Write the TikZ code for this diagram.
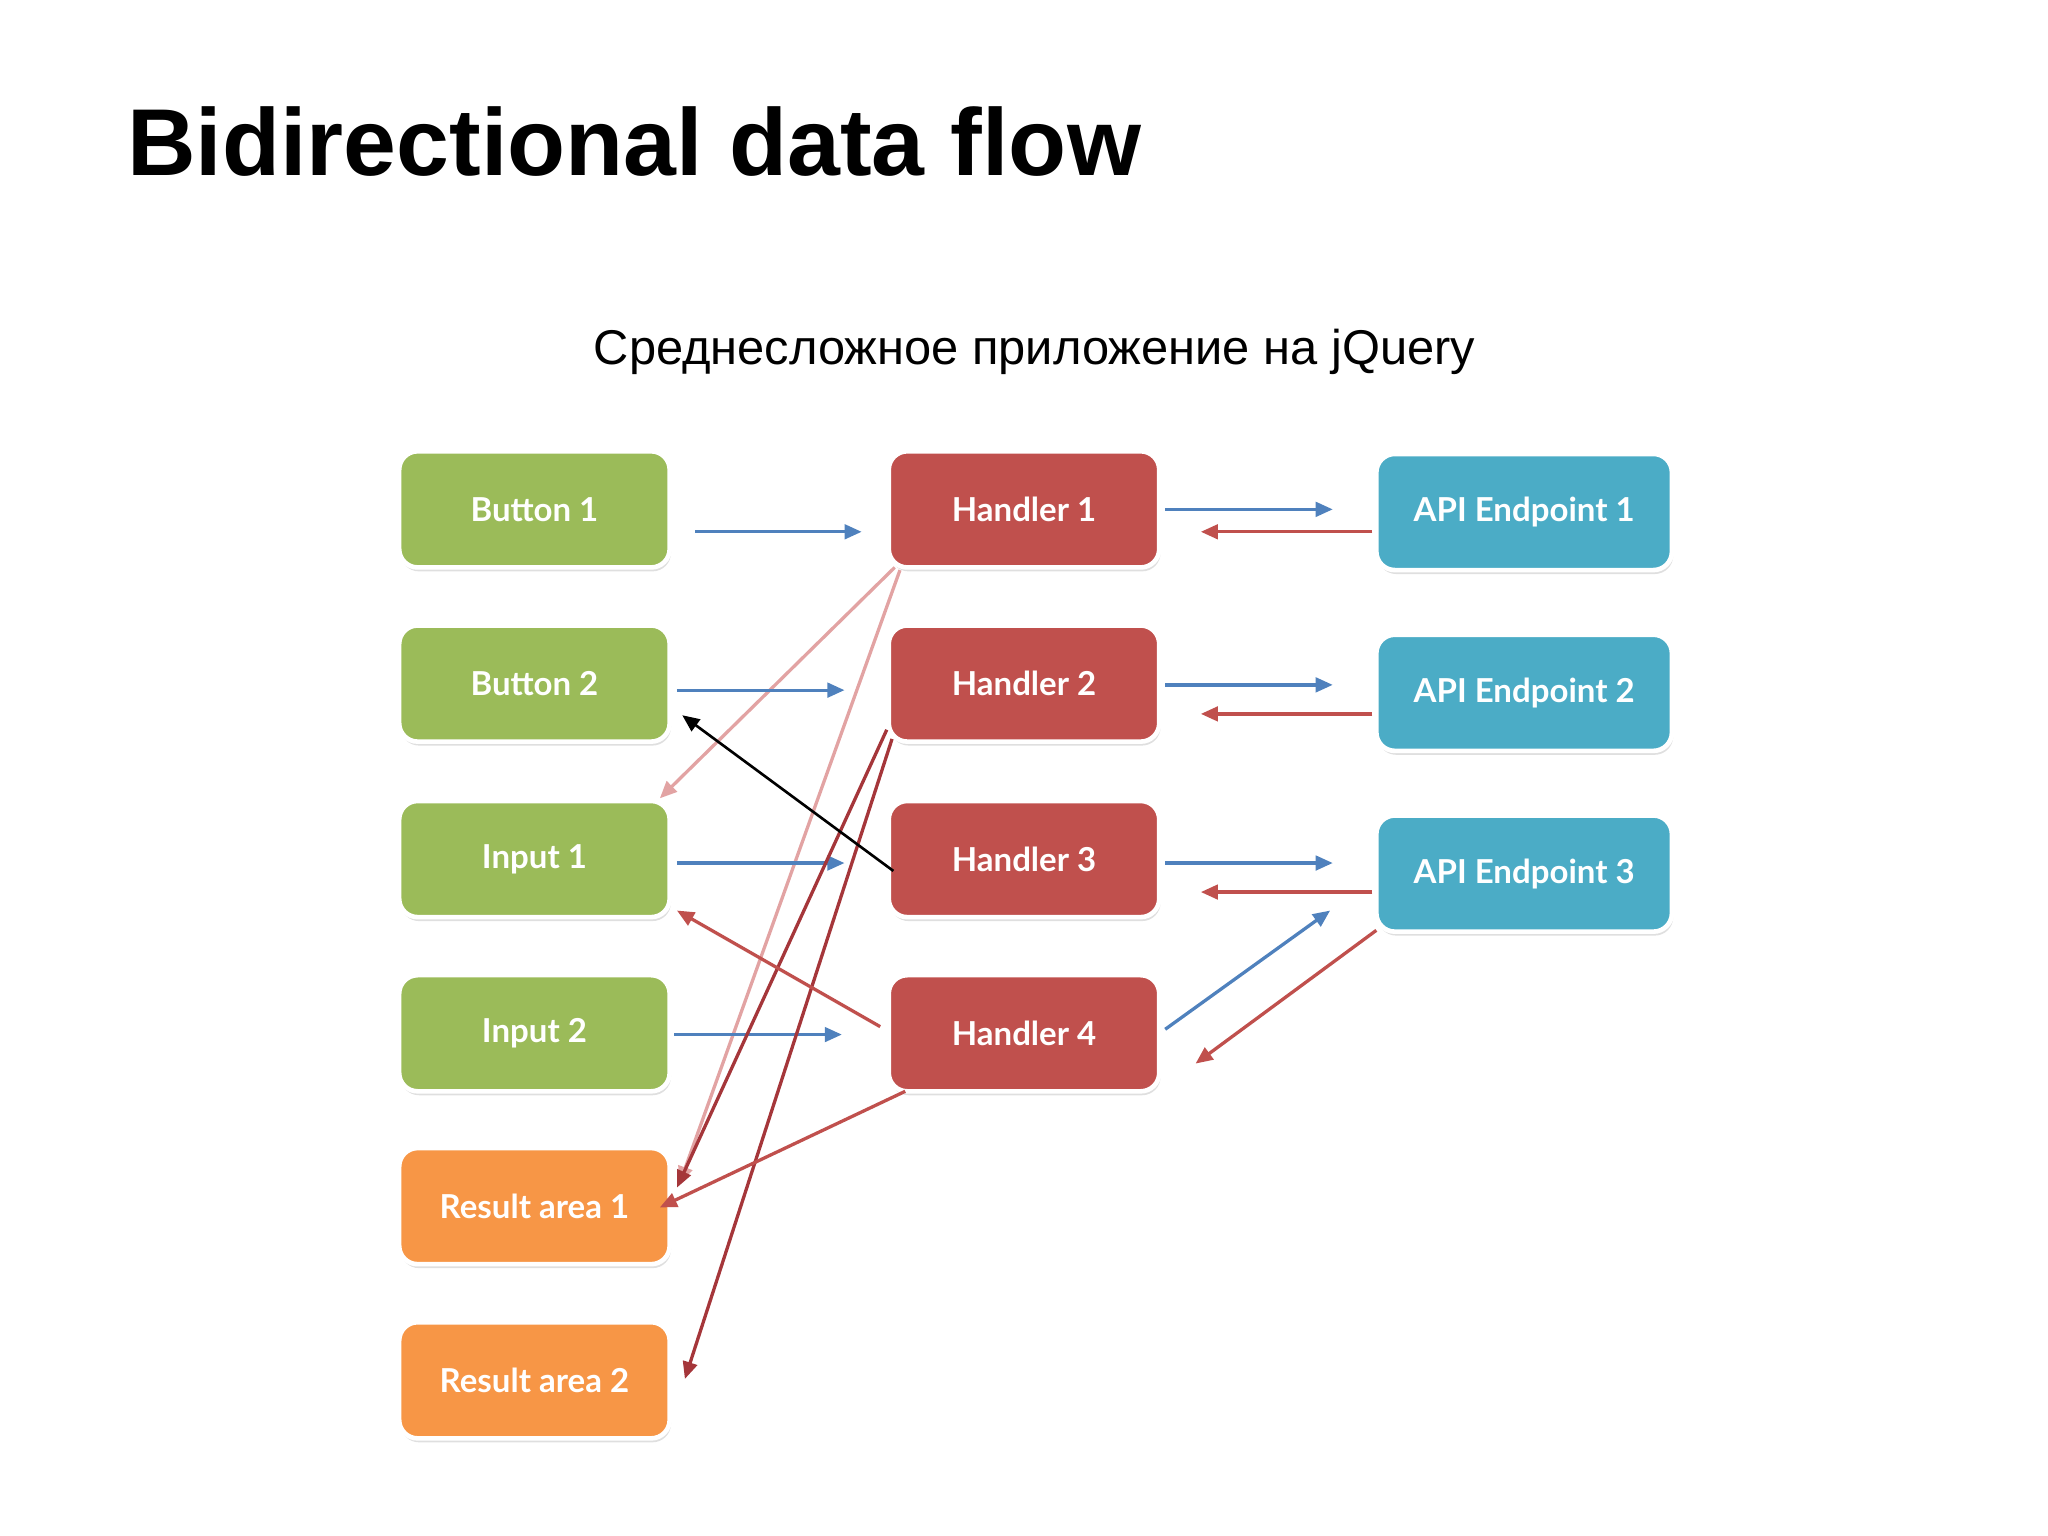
\documentclass[tikz,border=0pt]{standalone}
\usepackage{fontspec}
\setmainfont{Liberation Sans}
\newfontfamily\nf{Lato}
\usetikzlibrary{shadows,arrows.meta}
\definecolor{cg}{HTML}{9BBB59}
\definecolor{cr}{HTML}{C0504D}
\definecolor{cb}{HTML}{4BACC6}
\definecolor{co}{HTML}{F79646}
\definecolor{ab}{HTML}{4F81BD}
\definecolor{ar}{HTML}{C0504D}
\definecolor{ap}{HTML}{E2A3A3}
\definecolor{ad}{HTML}{A5363A}
\begin{document}
\begin{tikzpicture}[x=1pt,y=-1pt,
 box/.style={rounded corners=14pt,draw=white,line width=3.5pt,minimum height=88pt,
   text=white,font=\nf\bfseries\fontsize{25}{30}\selectfont,
   drop shadow={opacity=0.25,shadow xshift=1pt,shadow yshift=-3pt}},
 lb/.style={box,fill=cg,minimum width=205pt},
 hb/.style={box,fill=cr,minimum width=205pt},
 eb/.style={box,fill=cb,minimum width=224pt},
 ob/.style={box,fill=co,minimum width=205pt},
 a/.style={line width=2.5pt,-{Triangle[length=13pt,width=11pt]}},
 ablue/.style={a,ab}, ared/.style={a,ar}, apink/.style={a,ap}, adark/.style={a,ad}]
\useasboundingbox (0,0) rectangle (1552,1164);
\node[anchor=base west,font=\bfseries\fontsize{72}{80}\selectfont] (title) at (93,133) {Bidirectional data flow};
\node[font=\fontsize{37}{44}\selectfont] (sub) at (784,267) {Среднесложное приложение на jQuery};
\node[lb] (b1) at (405,386) {Button 1};
\node[lb] (b2) at (405,518) {Button 2};
\node[lb] (i1) at (405,651) {Input 1};
\node[lb] (i2) at (405,783) {Input 2};
\node[ob] (r1) at (405,914) {Result area 1};
\node[ob] (r2) at (405,1046) {Result area 2};
\node[hb] (h1) at (776,386) {Handler 1};
\node[hb] (h2) at (776,518) {Handler 2};
\node[hb] (h3) at (776,651) {Handler 3};
\node[hb] (h4) at (776,783) {Handler 4};
\node[eb] (e1) at (1155,388) {API Endpoint 1};
\node[eb] (e2) at (1155,525) {API Endpoint 2};
\node[eb] (e3) at (1155,662) {API Endpoint 3};
% coordinates
\foreach \n/\x/\y in {p1/527/403,q1/653/403,p2/513/523,q2/640/523,p3/513/654,q3/640/654,p4/511/784,q4/638/784,
 s1/883/386,t1/1010/386,u1/1040/403,v1/910/403,
 s2/883/519,t2/1010/519,u2/1040/541,v2/910/541,
 s3/883/654,t3/1010/654,u3/1040/676,v3/910/676,
 s4/883/780,t4/1008/690,u4/1043/705,v4/906/806,
 k1/678/430,k2/500/605,k3/682/432,k4/515/897,
 d1/672/553,d2/513/900,d3/676/560,d4/519/1045,
 m1/667/778,m2/513/690,n1/686/827,n2/500/915,c1/677/660,c2/517/542}
 {\coordinate (\n) at (\x,\y);}
\draw[apink] (k1) -- (k2);
\draw[apink] (k3) -- (k4);
\draw[ablue] (p1)--(q1); \draw[ablue] (p2)--(q2); \draw[ablue] (p3)--(q3); \draw[ablue] (p4)--(q4);
\draw[ablue] (s1)--(t1); \draw[ared] (u1)--(v1);
\draw[ablue] (s2)--(t2); \draw[ared] (u2)--(v2);
\draw[ablue] (s3)--(t3); \draw[ared] (u3)--(v3);
\draw[ablue] (s4)--(t4); \draw[ared] (u4)--(v4);
\draw[adark] (d1)--(d2); \draw[adark] (d3)--(d4);
\draw[ared] (m1)--(m2); \draw[ared] (n1)--(n2);
\draw[a,black,line width=2pt] (c1)--(c2);
\end{tikzpicture}
\end{document}
